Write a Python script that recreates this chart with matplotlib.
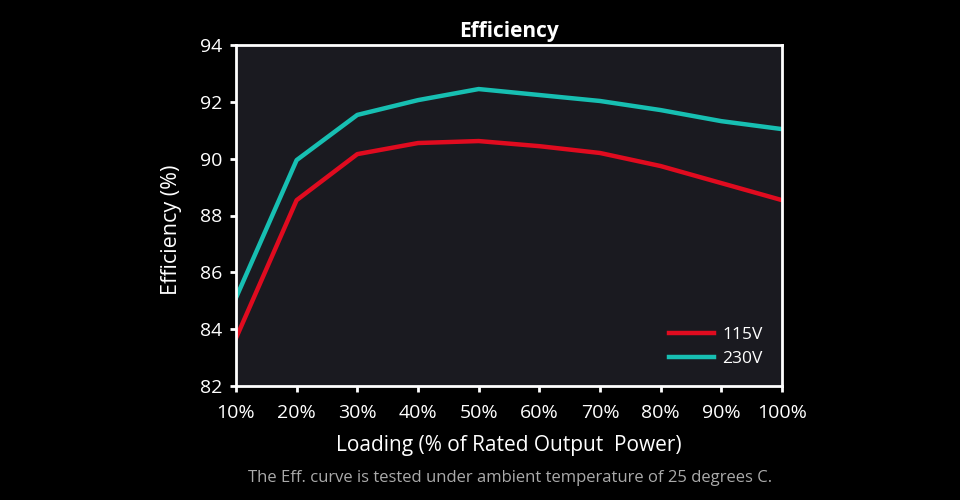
import matplotlib
matplotlib.use("Agg")
import matplotlib.pyplot as plt

loading = [10, 20, 30, 40, 50, 60, 70, 80, 90, 100]
x_labels = ["10%", "20%", "30%", "40%", "50%", "60%", "70%", "80%", "90%", "100%"]
eff_115 = [83.68, 88.54, 90.16, 90.55, 90.62, 90.44, 90.2, 89.74, 89.14, 88.54]
eff_230 = [85.1, 89.95, 91.54, 92.06, 92.45, 92.24, 92.03, 91.71, 91.32, 91.04]
y_ticks = [82, 84, 86, 88, 90, 92, 94]

plt.rcParams['font.family'] = ['Open Sans', 'DejaVu Sans']

fig = plt.figure(figsize=(9.6, 5.0), dpi=100, facecolor='black')
ax = fig.add_axes([0.2458, 0.228, 0.5688, 0.682])
ax.set_facecolor('#1a1a20')

ax.plot(loading, eff_115, color='#e00b1f', lw=3.2, label='115V')
ax.plot(loading, eff_230, color='#17bfb2', lw=3.2, label='230V')

ax.set_xlim(10, 100)
ax.set_ylim(82, 94)
ax.set_xticks(loading)
ax.set_xticklabels(x_labels)
ax.set_yticks(y_ticks)

for s in ax.spines.values():
    s.set_color('white')
    s.set_linewidth(2)
ax.tick_params(colors='white', labelsize=14, width=2, length=4, direction='out')
ax.tick_params(axis='x', pad=9)
ax.tick_params(axis='y', pad=6)

ax.set_title('Efficiency', color='white', fontsize=15, fontweight='bold', pad=6)
ax.set_xlabel('Loading (% of Rated Output  Power)', color='white', fontsize=15, labelpad=9)
ax.set_ylabel('Efficiency (%)', color='white', fontsize=15.5)
ax.yaxis.set_label_coords(-0.098, 0.457)

leg = ax.legend(loc='lower right', frameon=False, fontsize=12.5, handlelength=2.6,
                handletextpad=0.5, labelspacing=0.45, borderaxespad=0.7)
for t in leg.get_texts():
    t.set_color('white')

fig.text(0.531, 0.045, 'The Eff. curve is tested under ambient temperature of 25 degrees C.',
         color='#aaaaaa', fontsize=12, ha='center', va='center')

fig.savefig('out.png', dpi=100, facecolor='black')
